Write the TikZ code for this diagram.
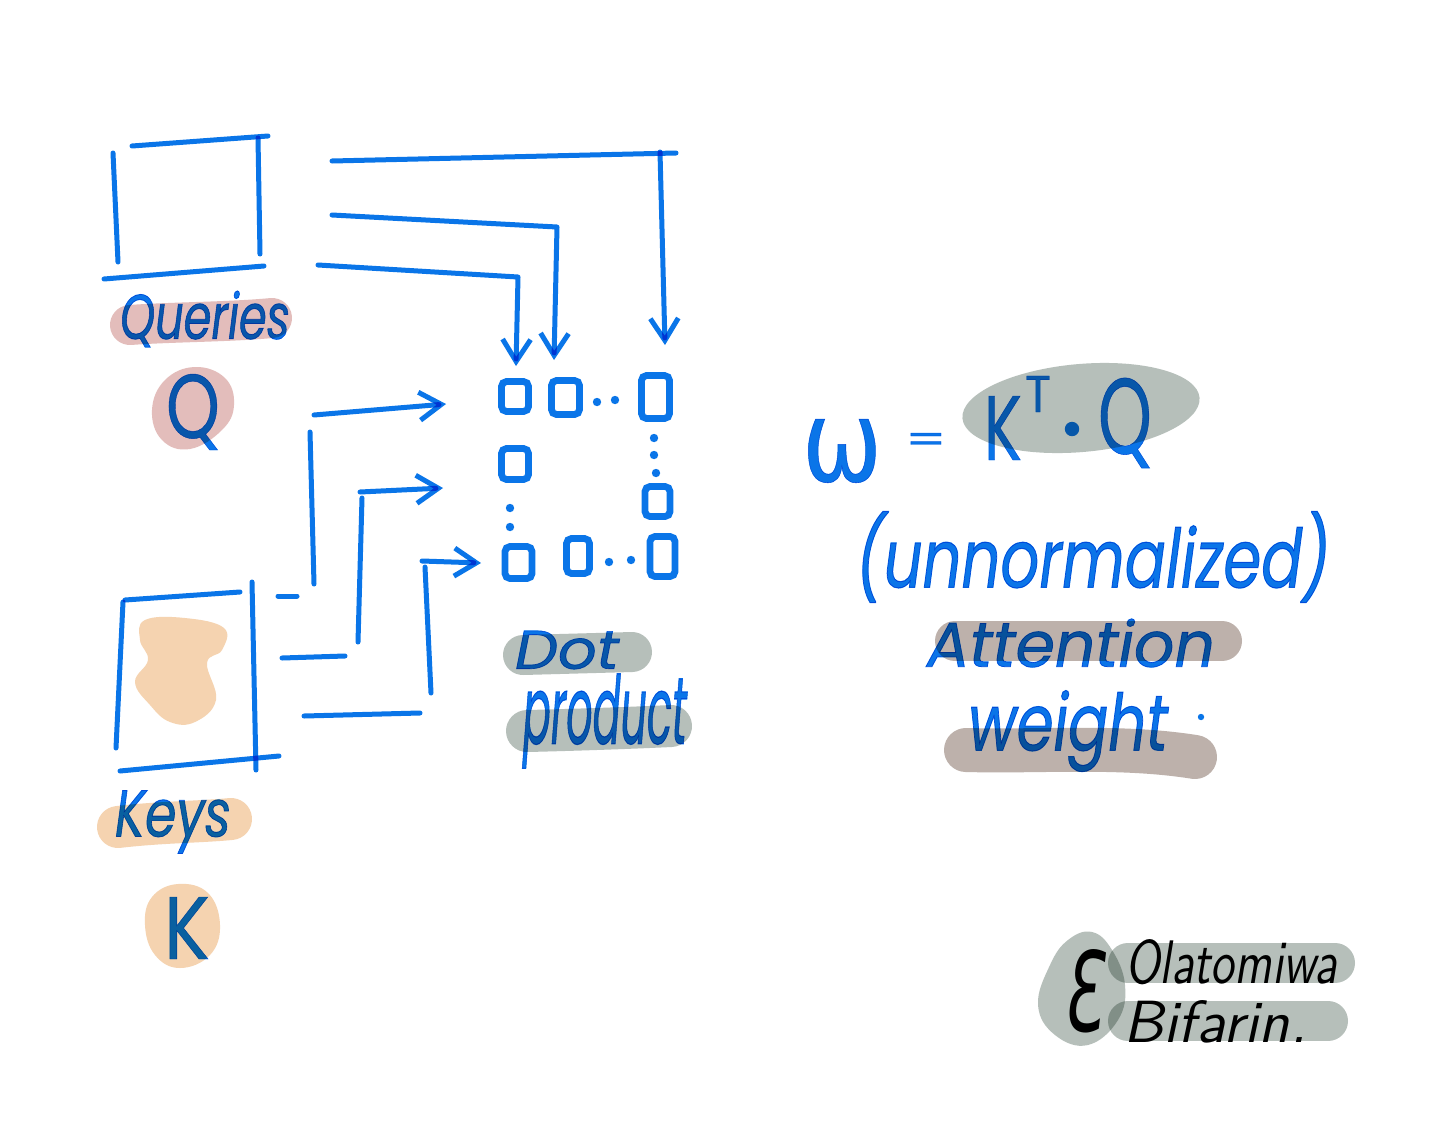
\documentclass[tikz,border=0pt]{standalone}
\usepackage{fontspec}
\setmainfont{Poppins}
\newfontfamily\dv{DejaVu Sans}
\usetikzlibrary{arrows.meta}
\definecolor{inkblue}{HTML}{0A75E8}
\definecolor{rosefill}{HTML}{E3BDBB}
\definecolor{peachfill}{HTML}{F5D3B0}
\definecolor{sagefill}{HTML}{B6BFBA}
\definecolor{taupefill}{HTML}{BDB1AB}
\newcommand{\fitb}[3]{\resizebox{#1pt}{#2pt}{#3}}
\tikzset{
  x=0.5pt,y=-0.5pt,
  ink/.style={draw=inkblue,line width=2.5pt,line cap=round,line join=round},
  arrowed/.style={ink,-{Straight Barb[length=11pt,width=14pt,line width=2.5pt]}},
  cell/.style={draw=inkblue,line width=3.4pt,rectangle,rounded corners=2.5pt,inner sep=0pt},
  pill/.style={line cap=round,line join=round,line width=20pt},
  blob/.style={smooth cycle,tension=0.7},
  word/.style={inner sep=0pt,outer sep=0pt,text=inkblue,font=\itshape\addfontfeature{FakeBold=1.2}},
  bigletter/.style={inner sep=0pt,outer sep=0pt,text=inkblue,font=\addfontfeature{FakeBold=0.5}},
  sign/.style={inner sep=0pt,outer sep=0pt,text=black,font=\sffamily\itshape},
  mult/.style={blend mode=multiply}
}
\begin{document}
\begin{tikzpicture}
\fill[white] (0,0) rectangle (1456,1125);
\useasboundingbox (0,0) rectangle (1456,1125);
% ---- colour patches
\draw[pill,draw=rosefill] (130,325) .. controls (170,322) and (230,322) .. (272,318);
\fill[rosefill] plot[blob] coordinates {(195,367) (225,378) (234,405) (222,430) (190,449) (162,440) (152,410) (165,380)};
\fill[peachfill] plot[blob] coordinates {(145,620) (185,618) (224,628) (222,650) (207,663) (216,700) (195,722) (170,722) (150,705) (135,682) (148,660) (140,640)};
\draw[pill,draw=peachfill,line width=21pt] (118,827) .. controls (160,822) and (200,822) .. (231,819);
\fill[peachfill] plot[blob] coordinates {(178,884) (208,893) (220,925) (210,955) (180,968) (155,955) (145,925) (152,897)};
\draw[pill,draw=sagefill] (523,655) -- (632,652);
\draw[pill,draw=sagefill,line width=21pt] (527,731) .. controls (570,730) and (630,728) .. (671,726);
\fill[sagefill,rotate around={5:(1081,408)}] (1081,408) ellipse (119 and 44);
\draw[pill,draw=taupefill] (955,641) -- (1222,641);
\draw[pill,draw=taupefill,line width=22pt] (966,750) .. controls (1040,752) and (1120,745) .. (1195,757);
\fill[sagefill] plot[blob] coordinates {(1092,932) (1112,950) (1125,985) (1118,1020) (1088,1045) (1055,1035) (1038,1005) (1050,965) (1068,940)};
\begin{scope}[mult]
\draw[pill,draw=sagefill] (1128,963) -- (1335,963);
\draw[pill,draw=sagefill] (1128,1021) -- (1328,1021);
\end{scope}
% ---- everything in ink darkens over the patches
\begin{scope}[mult]
% Queries box
\coordinate (qa) at (113,153); \coordinate (qb) at (118,262);
\coordinate (qc) at (132,146); \coordinate (qd) at (268,136);
\coordinate (qe) at (258,138); \coordinate (qf) at (260,254);
\coordinate (qg) at (104,279); \coordinate (qh) at (264,266);
\draw[ink] (qa) -- (qb); \draw[ink] (qc) -- (qd); \draw[ink] (qe) -- (qf); \draw[ink] (qg) -- (qh);
% Keys box
\coordinate (ka) at (116,748); \coordinate (kb) at (123,602);
\coordinate (kc) at (125,600); \coordinate (kd) at (240,592);
\coordinate (ke) at (252,582); \coordinate (kf) at (256,770);
\coordinate (kg) at (120,771); \coordinate (kh) at (279,756);
\draw[ink] (ka) -- (kb); \draw[ink] (kc) -- (kd); \draw[ink] (ke) -- (kf); \draw[ink] (kg) -- (kh);
% Grid cells
\node[cell,minimum width=13.5pt,minimum height=15pt] (c11) at (515,396.5) {};
\node[cell,minimum width=14pt,minimum height=17pt] (c12) at (565.5,397.5) {};
\node[cell,minimum width=14pt,minimum height=21.5pt] (c13) at (655.5,397) {};
\node[cell,minimum width=13.5pt,minimum height=15.5pt] (c21) at (515,464) {};
\node[cell,minimum width=12.5pt,minimum height=15pt] (c23) at (657.5,501.5) {};
\node[cell,minimum width=13.5pt,minimum height=16pt] (c31) at (518.5,562.5) {};
\node[cell,minimum width=11.5pt,minimum height=17.5pt] (c32) at (578,556) {};
\node[cell,minimum width=12.5pt,minimum height=20pt] (c33) at (662.5,556.5) {};
\foreach \px/\py in {597/402,615/400,654/438,654/455,656/473,510/508,510/527,609/562,631/560}
  \fill[inkblue] (\px,\py) circle (2.1pt);
% Arrows from queries
\coordinate (a1) at (318,265); \coordinate (a1b) at (518,277); \coordinate (a1t) at (516,366);
\coordinate (a2) at (332,215); \coordinate (a2b) at (557,227); \coordinate (a2t) at (554,360);
\coordinate (a3) at (332,161); \coordinate (a3r) at (676,153);
\coordinate (a3s) at (660,152); \coordinate (a3t) at (665,345);
\draw[arrowed] (a1) -- (a1b) -- (a1t);
\draw[arrowed] (a2) -- (a2b) -- (a2t);
\draw[ink] (a3) -- (a3r);
\draw[arrowed] (a3s) -- (a3t);
% Arrows from keys
\coordinate (b0) at (278,596); \coordinate (b0e) at (297,596);
\coordinate (b1) at (314,584); \coordinate (b1b) at (310,432);
\coordinate (b1h) at (314,415); \coordinate (b1t) at (446,404);
\draw[ink] (b0) -- (b0e);
\draw[ink] (b1) -- (b1b);
\draw[arrowed] (b1h) -- (b1t);
\coordinate (b2) at (282,658); \coordinate (b2e) at (345,656);
\coordinate (b2v) at (358,642); \coordinate (b2u) at (362,498);
\coordinate (b2h) at (360,492); \coordinate (b2t) at (443,488);
\draw[ink] (b2) -- (b2e);
\draw[ink] (b2v) -- (b2u);
\draw[arrowed] (b2h) -- (b2t);
\coordinate (b3) at (304,716); \coordinate (b3e) at (420,713);
\coordinate (b3v) at (431,693); \coordinate (b3u) at (425,567);
\coordinate (b3h) at (422,561); \coordinate (b3t) at (481,563);
\draw[ink] (b3) -- (b3e);
\draw[ink] (b3v) -- (b3u);
\draw[arrowed] (b3h) -- (b3t);
% Words
\node[word] (tqueries) at (205,319) {\fitb{85}{24}{Queries}};
\node[bigletter] (tq) at (193,412) {\fitb{27}{32}{Q}};
\node[word] (tkeys) at (173,822) {\fitb{58}{23}{Keys}};
\node[bigletter] (tk) at (187,928) {\fitb{23}{31}{K}};
\node[word] (tdot) at (567,650) {\fitb{52}{19}{Dot}};
\node[word] (tproduct) at (605,721) {\fitb{82}{35}{product}};
\node[bigletter] (tw) at (842,451) {\fitb{40}{31}{\dv\addfontfeature{FakeBold=0.5}ω}};
\node[bigletter] (teq) at (926,443) {\fitb{21}{10}{=}};
\node[bigletter] (tbk) at (1003,428) {\fitb{19}{32}{K}};
\node[bigletter] (tbt) at (1038,394) {\fitb{13}{18}{T}};
\fill[inkblue] (1072,429) circle (3.6pt);
\node[bigletter] (tbq) at (1125,423) {\fitb{27}{38}{Q}};
\node[word] (tunn) at (1093,557) {\fitb{237}{38}{(unnormalized)}};
\node[word] (tatt) at (1071,643) {\fitb{144}{24}{Attention}};
\node[word] (twei) at (1068,731) {\fitb{100}{30}{weight}};
\fill[inkblue] (1201,717) circle (1.6pt);
\end{scope}
% Signature
\node[sign] (se) at (1082,991) {\fitb{20}{41}{\dv Ɛ}};
\node[sign] (sol) at (1231,962) {\fitb{106}{22}{Olatomiwa}};
\node[sign] (sbi) at (1215,1022) {\fitb{92}{21}{Bifarin.}};
\end{tikzpicture}
\end{document}
